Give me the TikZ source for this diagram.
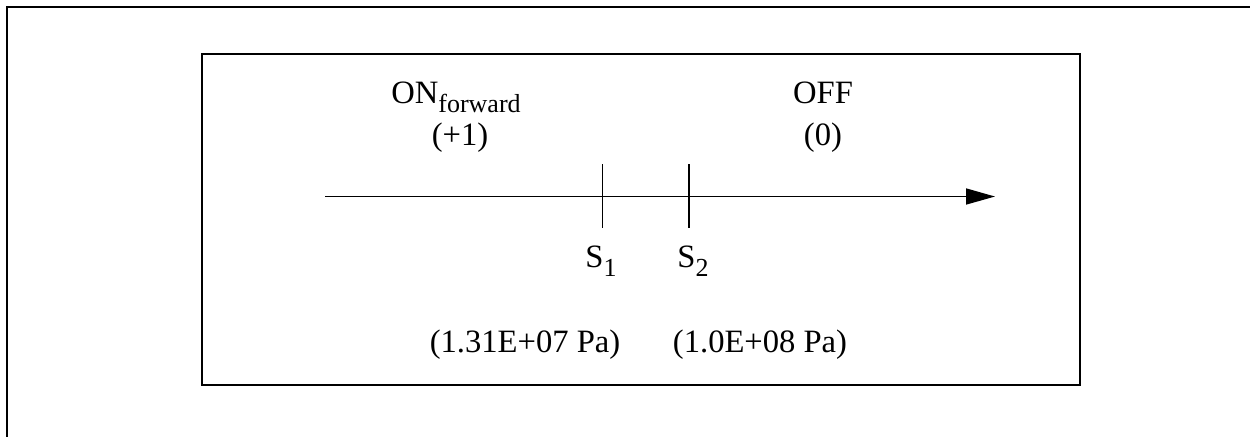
\documentclass[tikz,border=0pt]{standalone}
\usepackage{fontspec}
\setmainfont{Liberation Serif}
\usepackage{tikz}
\usetikzlibrary{arrows.meta, positioning}
\tikzset{
  %% ---- frames ----
  frame/.style   = {line width=1.1pt, line cap=rect},
  panel/.style   = {draw, line width=1pt},
  %% ---- axis ----
  axisline/.style = {-{Triangle[length=14.5pt, width=8pt]}, line width=0.8pt},
  tick/.style    = {line width=0.8pt},
  %% ---- text ----
  lbl/.style     = {inner sep=0pt, anchor=base, font=\fontsize{16.3}{19}\selectfont},
}
\newcommand{\sub}[1]{\raisebox{-4.5pt}{\fontsize{13}{15}\selectfont #1}}

\begin{document}
\begin{tikzpicture}[x=0.5pt, y=-0.5pt]
\useasboundingbox (0,0) rectangle (1250,436);
% outer frame (top and left edge only)
\draw[frame] (7,440) -- (7,7) -- (1252,7);
% inner box
\node[panel, minimum width=439pt, minimum height=165.5pt, inner sep=0pt,
      anchor=north west] (box) at (200.5,53) {};
% axis
\coordinate (start) at (325,196.5);
\coordinate (stop)  at (995,196.5);
\draw[axisline] (start) -- (stop);
% switch points
\coordinate (s1top) at (602.5,164);
\coordinate (s1bot) at (602.5,228);
\coordinate (s2top) at (689,164);
\coordinate (s2bot) at (689,228);
\draw[tick] (s1top) -- (s1bot);
\draw[tick] (s2top) -- (s2bot);
% labels
\node[lbl] (on)    at (456,103) {ON\sub{forward}};
\node[lbl] (onval) at (460,145) {(+1)};
\node[lbl] (off)    at (823,103) {OFF};
\node[lbl] (offval) at (823,145) {(0)};
\node[lbl] (s1) at (601,267) {S\sub{1}};
\node[lbl] (s2) at (693,267) {S\sub{2}};
\node[lbl] (p1) at (525,352) {(1.31E+07 Pa)};
\node[lbl] (p2) at (760,352) {(1.0E+08 Pa)};
\end{tikzpicture}
\end{document}
